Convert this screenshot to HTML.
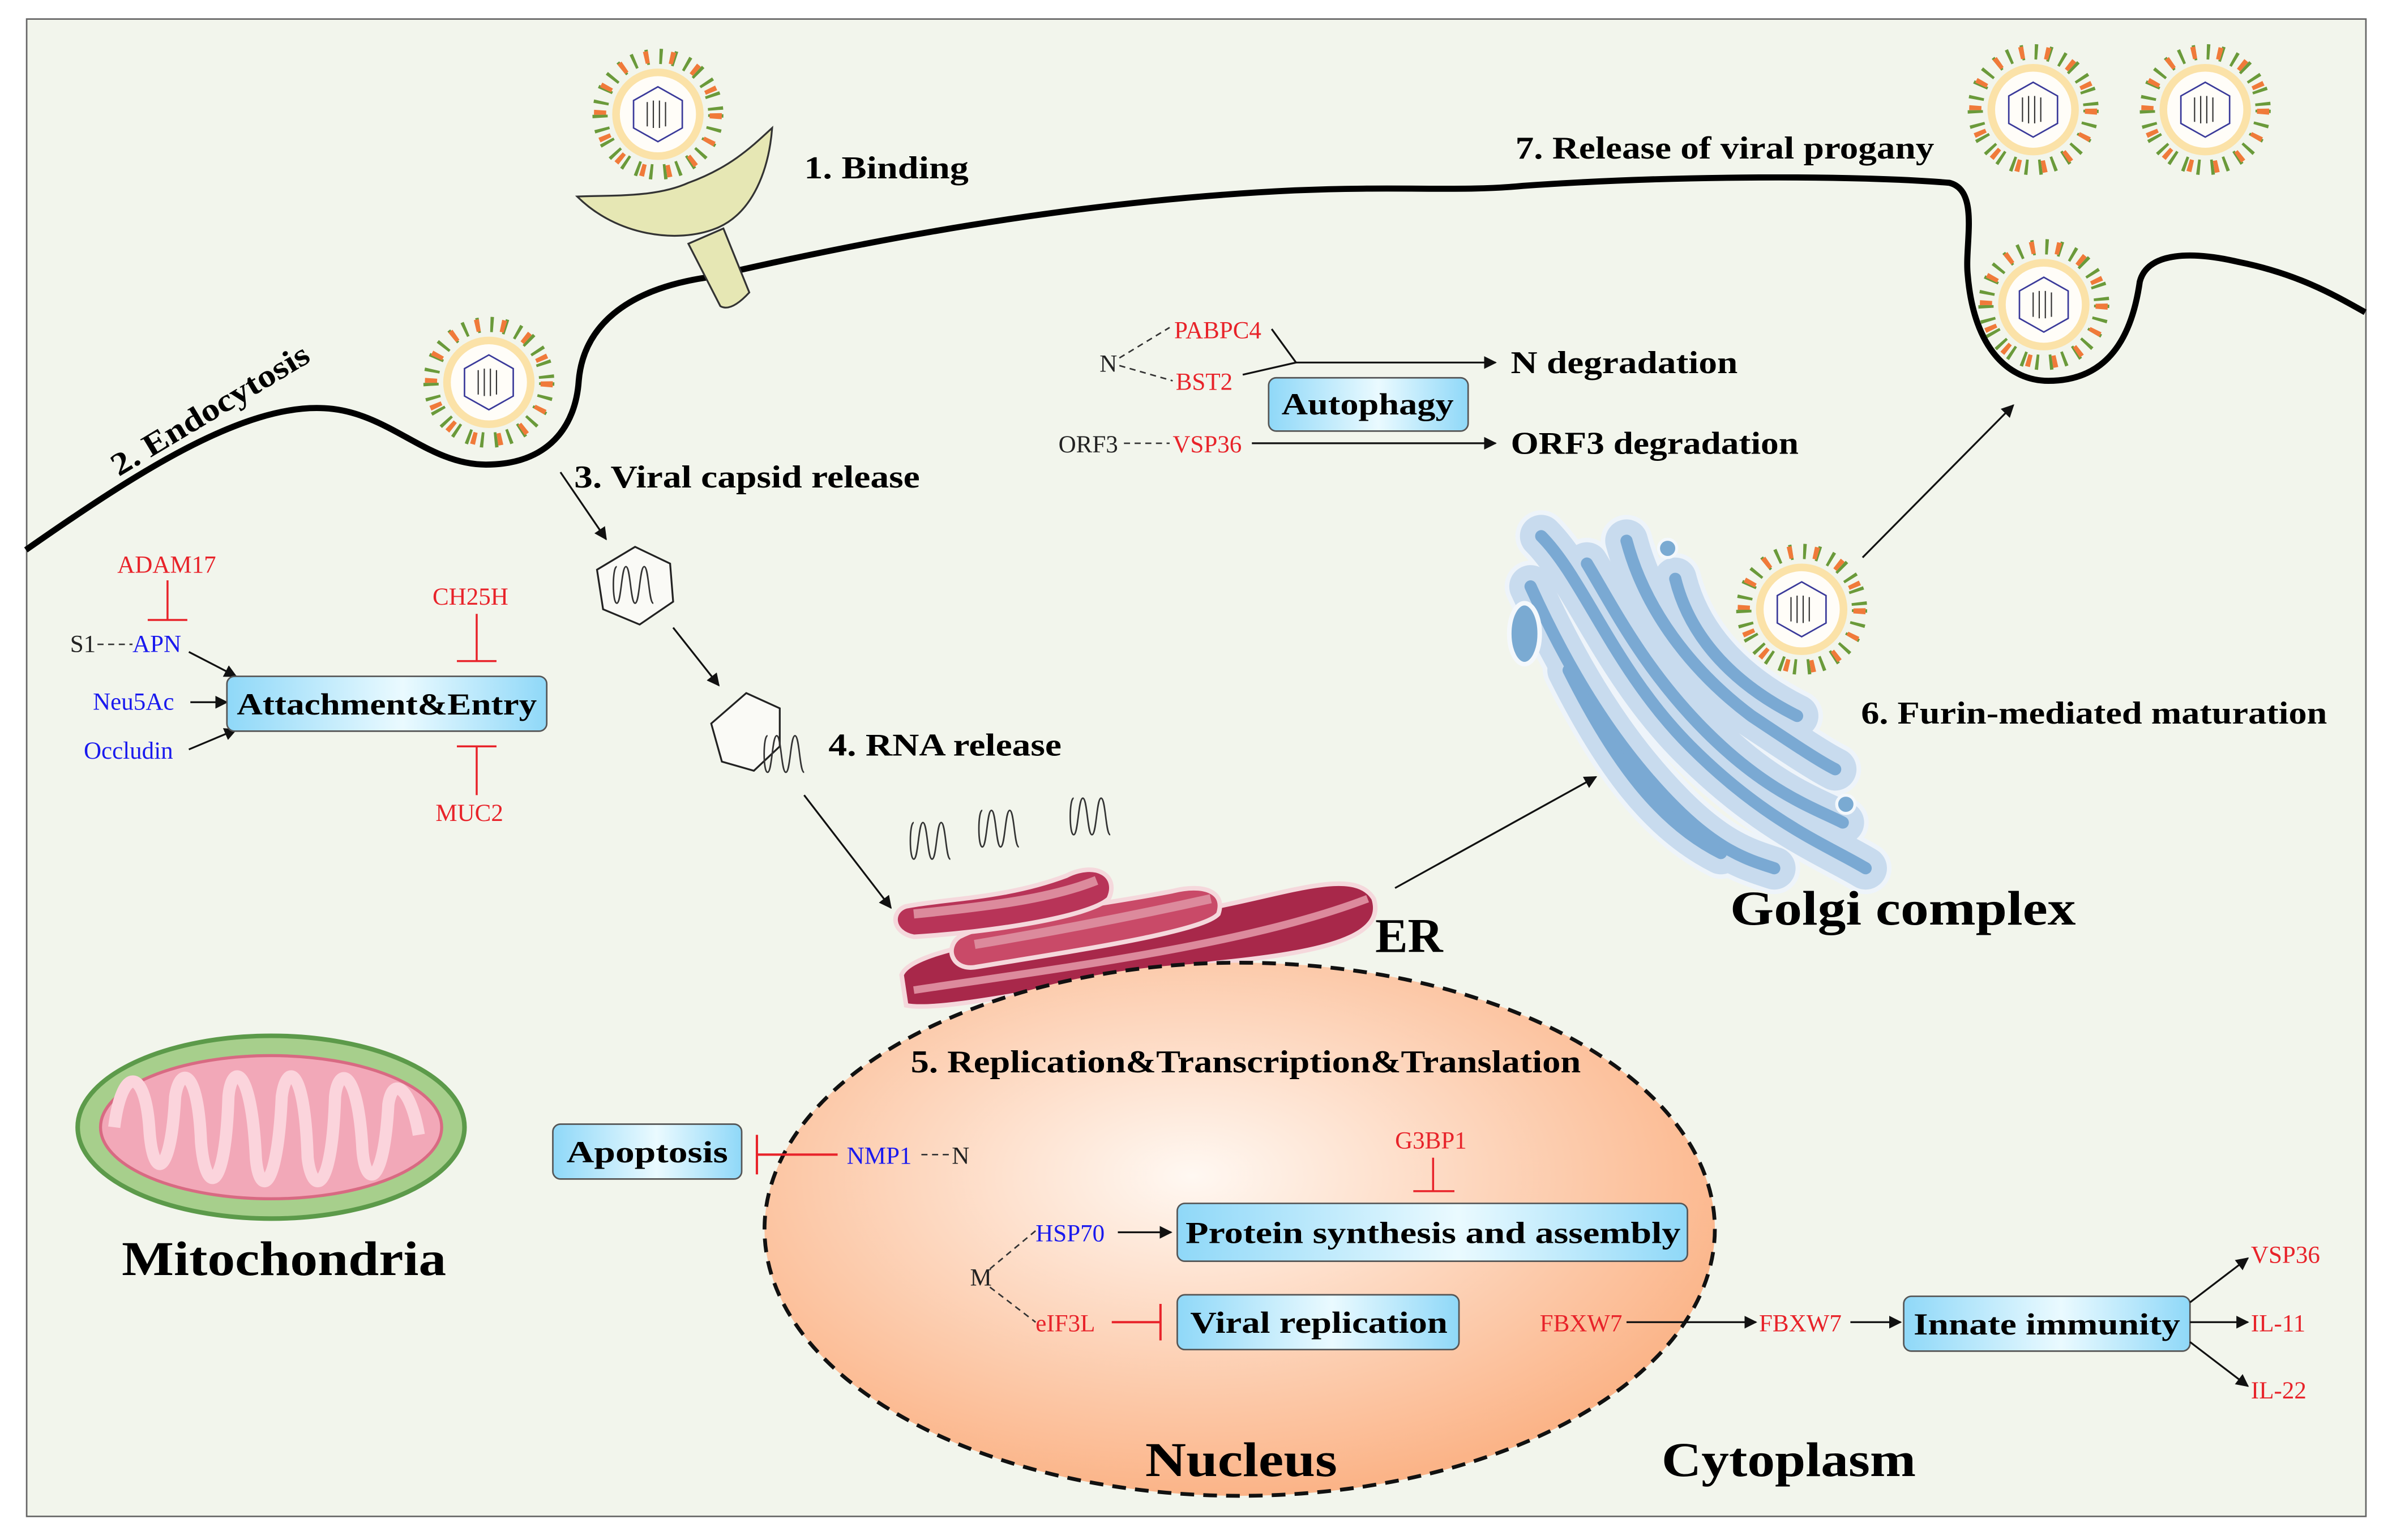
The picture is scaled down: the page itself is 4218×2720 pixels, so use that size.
<!DOCTYPE html>
<html><head><meta charset="utf-8"><style>
html,body{margin:0;padding:0;background:#fff;}
svg{display:block;}
.b{font-weight:bold;}
.r{fill:#e8232a;font-size:16px;}
.bl{fill:#1a1aee;font-size:16px;}
.k{fill:#222;font-size:16px;}
</style></head><body>
<svg width="4218" height="2720" viewBox="0 0 1568 1011" preserveAspectRatio="none" xmlns="http://www.w3.org/2000/svg" font-family="'Liberation Serif', serif">
<defs>
<marker id="ar" viewBox="0 0 10 10" refX="9" refY="5" markerWidth="7" markerHeight="7" orient="auto"><path d="M0,0 L10,5 L0,10 z" fill="#111"/></marker>
<radialGradient id="nuc" cx="0.45" cy="0.4" r="0.6"><stop offset="0" stop-color="#fff8f2"/><stop offset="1" stop-color="#fbb488"/></radialGradient>
<linearGradient id="box" x1="0" x2="1"><stop offset="0" stop-color="#8fd8f8"/><stop offset="0.55" stop-color="#eafaff"/><stop offset="1" stop-color="#8fd8f8"/></linearGradient>
<g id="vir">
<circle r="38" fill="none" stroke="#6a9a3a" stroke-width="10" stroke-dasharray="2 7"/>
<circle r="38" fill="none" stroke="#f07a3a" stroke-width="8" stroke-dasharray="3 14"/>
<circle r="30" fill="#fbe2a8"/>
<circle r="25" fill="#fffdf8"/>
<polygon points="0,-18 16,-9 16,9 0,18 -16,9 -16,-9" fill="none" stroke="#3a3a9a" stroke-width="1"/>
<path d="M-7,-8 v16 M-3,-9 v18 M1,-9 v18 M5,-8 v16" stroke="#333" stroke-width="0.8" fill="none"/>
</g>
<g id="rna"><path d="M0,0 c-3,0 -3,24 0,24 c3,0 3,-24 6,-24 c3,0 3,24 6,24 c3,0 3,-24 6,-24 c3,0 3,24 6,24" fill="none" stroke="#333" stroke-width="1"/></g>
</defs>
<rect x="0" y="0" width="1568" height="1011" fill="#fff"/>
<rect x="17.5" y="12.5" width="1536" height="983" fill="#f2f5ec" stroke="#666" stroke-width="1"/>

<!-- membrane -->
<path d="M17,361 C90,310 160,265 213,268 C255,270 280,305 319,305 C360,305 378,280 380,250 C383,215 410,190 465,182 C560,160 700,132 850,125 C920,122 960,126 1000,122 C1100,115 1220,115 1280,120 C1300,125 1290,160 1292,180 C1296,230 1320,250 1345,250 C1385,250 1400,220 1405,185 C1410,165 1440,165 1470,172 C1510,180 1535,195 1553,205" fill="none" stroke="#000" stroke-width="4"/>

<!-- receptor -->
<path d="M452,160 L473,201 Q480,205 492,192 L475,150 z" fill="#e6e7b4" stroke="#333" stroke-width="1.2"/>
<path d="M379,129 C400,128 430,130 452,120 C480,110 495,95 507,84 C505,110 495,140 470,150 C445,160 405,155 379,129 z" fill="#e6e7b4" stroke="#333" stroke-width="1.2"/>

<use href="#vir" x="432" y="75"/>
<use href="#vir" x="321" y="251"/>
<use href="#vir" x="1335" y="72"/>
<use href="#vir" x="1448" y="72"/>
<use href="#vir" x="1342" y="200"/>

<g class="b" font-size="21" lengthAdjust="spacingAndGlyphs">
<text x="528" y="117" textLength="108" lengthAdjust="spacingAndGlyphs">1. Binding</text>
<text x="0" y="0" transform="translate(78,313) rotate(-31)" textLength="148" lengthAdjust="spacingAndGlyphs">2. Endocytosis</text>
<text x="377" y="320" textLength="227" lengthAdjust="spacingAndGlyphs">3. Viral capsid release</text>
<text x="544" y="496" textLength="153" lengthAdjust="spacingAndGlyphs">4. RNA release</text>
<text x="995" y="104" textLength="275" lengthAdjust="spacingAndGlyphs">7. Release of viral progany</text>
<text x="1222" y="475" textLength="306" lengthAdjust="spacingAndGlyphs">6. Furin-mediated maturation</text>
</g>

<!-- capsid -->
<line x1="368" y1="310" x2="398" y2="354" stroke="#111" stroke-width="1.2" marker-end="url(#ar)"/>
<polygon points="417,359 440,370 442,395 420,410 396,400 392,374" fill="#fafaf6" stroke="#222" stroke-width="1.2"/>
<use href="#rna" x="405" y="372"/>
<line x1="442" y1="412" x2="472" y2="450" stroke="#111" stroke-width="1.2" marker-end="url(#ar)"/>
<polygon points="490,455 512,465 512,490 495,506 474,500 467,475" fill="#fafaf6" stroke="#222" stroke-width="1.2"/>
<use href="#rna" x="504" y="483"/>
<line x1="528" y1="522" x2="585" y2="596" stroke="#111" stroke-width="1.2" marker-end="url(#ar)"/>
<use href="#rna" x="600" y="540"/>
<use href="#rna" x="645" y="532"/>
<use href="#rna" x="705" y="524"/>

<!-- ER -->
<g stroke="#f5d8dc" stroke-width="3">
<path d="M592,640 C600,620 700,610 800,595 C850,585 890,570 902,590 C910,615 870,625 800,632 C700,645 620,665 595,660 z" fill="#a8284a"/>
<path d="M630,615 C660,600 720,595 770,585 C790,580 805,585 800,600 C790,612 700,625 640,635 C625,637 620,622 630,615 z" fill="#c94a68"/>
<path d="M595,595 C620,590 660,590 700,575 C720,565 735,575 728,590 C715,602 650,612 600,615 C585,612 585,598 595,595 z" fill="#b83458"/>
</g>
<path d="M600,600 C650,595 690,590 720,578" stroke="#dc8a9c" stroke-width="6" fill="none"/>
<path d="M640,620 C700,610 750,600 795,590" stroke="#dc8a9c" stroke-width="6" fill="none"/>
<path d="M600,650 C700,635 820,620 898,590" stroke="#dc8a9c" stroke-width="5" fill="none"/>
<text x="903" y="625" class="b" font-size="32">ER</text>
<line x1="916" y1="583" x2="1048" y2="510" stroke="#111" stroke-width="1.2" marker-end="url(#ar)"/>

<!-- Golgi -->
<g fill="none" stroke-linecap="round">
<g stroke="#eef4fa" stroke-width="34">
<path d="M1012,352 C1040,380 1060,440 1110,490 C1160,540 1200,555 1225,570"/>
<path d="M1042,370 C1060,400 1080,440 1120,480 C1160,520 1190,530 1210,540"/>
<path d="M1068,355 C1080,400 1110,440 1150,470 C1180,490 1195,500 1205,505"/>
<path d="M1005,385 C1030,440 1060,490 1100,530 C1130,560 1150,565 1165,570"/>
<path d="M1030,440 C1060,500 1090,540 1130,560"/>
<path d="M1100,380 C1110,420 1140,450 1180,470"/>
</g>
<g stroke="#c8dbee" stroke-width="28">
<path d="M1012,352 C1040,380 1060,440 1110,490 C1160,540 1200,555 1225,570"/>
<path d="M1042,370 C1060,400 1080,440 1120,480 C1160,520 1190,530 1210,540"/>
<path d="M1068,355 C1080,400 1110,440 1150,470 C1180,490 1195,500 1205,505"/>
<path d="M1005,385 C1030,440 1060,490 1100,530 C1130,560 1150,565 1165,570"/>
<path d="M1030,440 C1060,500 1090,540 1130,560"/>
<path d="M1100,380 C1110,420 1140,450 1180,470"/>
</g>
<g stroke="#7aa9d3" stroke-width="8">
<path d="M1012,352 C1040,380 1060,440 1110,490 C1160,540 1200,555 1225,570"/>
<path d="M1042,370 C1060,400 1080,440 1120,480 C1160,520 1190,530 1210,540"/>
<path d="M1068,355 C1080,400 1110,440 1150,470 C1180,490 1195,500 1205,505"/>
<path d="M1005,385 C1030,440 1060,490 1100,530 C1130,560 1150,565 1165,570"/>
<path d="M1030,440 C1060,500 1090,540 1130,560"/>
<path d="M1100,380 C1110,420 1140,450 1180,470"/>
</g>
</g>
<ellipse cx="1001" cy="416" rx="10" ry="20" fill="#7aaad2" stroke="#f4f8fc" stroke-width="3"/>
<circle cx="1095" cy="360" r="6" fill="#7aaad2" stroke="#f4f8fc" stroke-width="2"/>
<circle cx="1212" cy="528" r="6" fill="#7aaad2" stroke="#f4f8fc" stroke-width="2"/>
<use href="#vir" x="1183" y="400"/>
<line x1="1223" y1="366" x2="1322" y2="266" stroke="#111" stroke-width="1.2" marker-end="url(#ar)"/>
<text x="1136" y="607" class="b" font-size="32" textLength="227" lengthAdjust="spacingAndGlyphs">Golgi complex</text>

<!-- autophagy -->
<text x="771" y="222" class="r">PABPC4</text>
<text x="772" y="256" class="r">BST2</text>
<text x="722" y="244" class="k">N</text>
<path d="M735,235 L768,215 M735,240 L770,250" stroke="#333" stroke-dasharray="4 3" fill="none"/>
<path d="M835,216 L851,238 L816,246" stroke="#111" stroke-width="1.2" fill="none"/>
<line x1="851" y1="238" x2="982" y2="238" stroke="#111" stroke-width="1.2" marker-end="url(#ar)"/>
<text x="992" y="245" class="b" font-size="21" textLength="149" lengthAdjust="spacingAndGlyphs">N degradation</text>
<rect x="833" y="248" width="131" height="35" rx="5" fill="url(#box)" stroke="#555"/>
<text x="898" y="272" text-anchor="middle" class="b" font-size="20" textLength="113" lengthAdjust="spacingAndGlyphs">Autophagy</text>
<text x="695" y="297" class="k">ORF3</text>
<path d="M738,291 L768,291" stroke="#333" stroke-dasharray="4 3"/>
<text x="770" y="297" class="r">VSP36</text>
<line x1="822" y1="291" x2="982" y2="291" stroke="#111" stroke-width="1.2" marker-end="url(#ar)"/>
<text x="992" y="298" class="b" font-size="21" textLength="189" lengthAdjust="spacingAndGlyphs">ORF3 degradation</text>

<!-- attachment -->
<text x="77" y="376" class="r">ADAM17</text>
<path d="M110,381 V407 M97,407 H123" stroke="#e8232a" stroke-width="1.3"/>
<text x="46" y="428" class="k">S1</text>
<path d="M64,423 L87,423" stroke="#333" stroke-dasharray="4 3"/>
<text x="87" y="428" class="bl">APN</text>
<line x1="124" y1="428" x2="155" y2="444" stroke="#111" stroke-width="1.2" marker-end="url(#ar)"/>
<text x="61" y="466" class="bl">Neu5Ac</text>
<line x1="125" y1="461" x2="149" y2="461" stroke="#111" stroke-width="1.2" marker-end="url(#ar)"/>
<text x="55" y="498" class="bl">Occludin</text>
<line x1="124" y1="492" x2="155" y2="479" stroke="#111" stroke-width="1.2" marker-end="url(#ar)"/>
<rect x="149" y="444" width="210" height="36" rx="5" fill="url(#box)" stroke="#555"/>
<text x="254" y="469" text-anchor="middle" class="b" font-size="20" textLength="197" lengthAdjust="spacingAndGlyphs">Attachment&amp;Entry</text>
<text x="284" y="397" class="r">CH25H</text>
<path d="M313,403 V434 M300,434 H326" stroke="#e8232a" stroke-width="1.3"/>
<path d="M300,490 H326 M313,490 V522" stroke="#e8232a" stroke-width="1.3"/>
<text x="286" y="539" class="r">MUC2</text>

<!-- mitochondria -->
<ellipse cx="178" cy="740" rx="127" ry="60" fill="#a7cf8c" stroke="#5c9a4a" stroke-width="3"/>
<ellipse cx="178" cy="740" rx="112" ry="47" fill="#f2a8b8" stroke="#d86a82" stroke-width="2"/>
<path d="M75,740 C80,700 95,700 98,740 C100,775 112,775 115,720 C118,700 130,700 132,750 C135,785 148,785 150,720 C152,698 165,698 168,760 C170,785 182,785 185,720 C188,698 200,698 202,760 C205,785 218,785 220,720 C222,700 235,700 238,755 C240,780 252,780 255,725 C258,705 270,715 275,745" fill="none" stroke="#fbd4dc" stroke-width="8"/>
<text x="80" y="837" class="b" font-size="32" textLength="213" lengthAdjust="spacingAndGlyphs">Mitochondria</text>

<!-- nucleus -->
<ellipse cx="814" cy="807" rx="312" ry="175" fill="url(#nuc)" stroke="#111" stroke-width="2.5" stroke-dasharray="9 6"/>
<text x="598" y="704" class="b" font-size="21" textLength="440" lengthAdjust="spacingAndGlyphs">5. Replication&amp;Transcription&amp;Translation</text>
<rect x="363" y="738" width="124" height="36" rx="5" fill="url(#box)" stroke="#555"/>
<text x="425" y="763" text-anchor="middle" class="b" font-size="20" textLength="106" lengthAdjust="spacingAndGlyphs">Apoptosis</text>
<path d="M497,745 V771 M497,758 H550" stroke="#e8232a" stroke-width="1.5"/>
<text x="556" y="764" class="bl">NMP1</text>
<path d="M605,758 L625,758" stroke="#333" stroke-dasharray="4 3"/>
<text x="625" y="764" class="k">N</text>
<text x="916" y="754" class="r">G3BP1</text>
<path d="M941,760 V782 M928,782 H955" stroke="#e8232a" stroke-width="1.3"/>
<rect x="773" y="790" width="335" height="38" rx="5" fill="url(#box)" stroke="#555"/>
<text x="941" y="816" text-anchor="middle" class="b" font-size="20" textLength="325" lengthAdjust="spacingAndGlyphs">Protein synthesis and assembly</text>
<text x="637" y="844" class="k">M</text>
<path d="M650,833 L680,808 M650,845 L680,868" stroke="#333" stroke-dasharray="4 3" fill="none"/>
<text x="680" y="815" class="bl">HSP70</text>
<line x1="734" y1="809" x2="769" y2="809" stroke="#111" stroke-width="1.2" marker-end="url(#ar)"/>
<text x="680" y="874" class="r">eIF3L</text>
<path d="M730,868 H762 M762,856 V880" stroke="#e8232a" stroke-width="1.5"/>
<rect x="773" y="850" width="185" height="36" rx="5" fill="url(#box)" stroke="#555"/>
<text x="866" y="875" text-anchor="middle" class="b" font-size="20" textLength="169" lengthAdjust="spacingAndGlyphs">Viral replication</text>
<text x="752" y="969" class="b" font-size="32" textLength="126" lengthAdjust="spacingAndGlyphs">Nucleus</text>

<!-- innate -->
<text x="1011" y="874" class="r">FBXW7</text>
<line x1="1068" y1="868" x2="1153" y2="868" stroke="#111" stroke-width="1.2" marker-end="url(#ar)"/>
<text x="1155" y="874" class="r">FBXW7</text>
<line x1="1215" y1="868" x2="1248" y2="868" stroke="#111" stroke-width="1.2" marker-end="url(#ar)"/>
<rect x="1250" y="851" width="188" height="36" rx="5" fill="url(#box)" stroke="#555"/>
<text x="1344" y="876" text-anchor="middle" class="b" font-size="20" textLength="175" lengthAdjust="spacingAndGlyphs">Innate immunity</text>
<line x1="1438" y1="855" x2="1476" y2="826" stroke="#111" stroke-width="1.2" marker-end="url(#ar)"/>
<line x1="1438" y1="868" x2="1476" y2="868" stroke="#111" stroke-width="1.2" marker-end="url(#ar)"/>
<line x1="1438" y1="881" x2="1476" y2="910" stroke="#111" stroke-width="1.2" marker-end="url(#ar)"/>
<text x="1478" y="829" class="r">VSP36</text>
<text x="1478" y="874" class="r">IL-11</text>
<text x="1478" y="918" class="r">IL-22</text>
<text x="1091" y="969" class="b" font-size="32" textLength="167" lengthAdjust="spacingAndGlyphs">Cytoplasm</text>
</svg>
</body></html>
